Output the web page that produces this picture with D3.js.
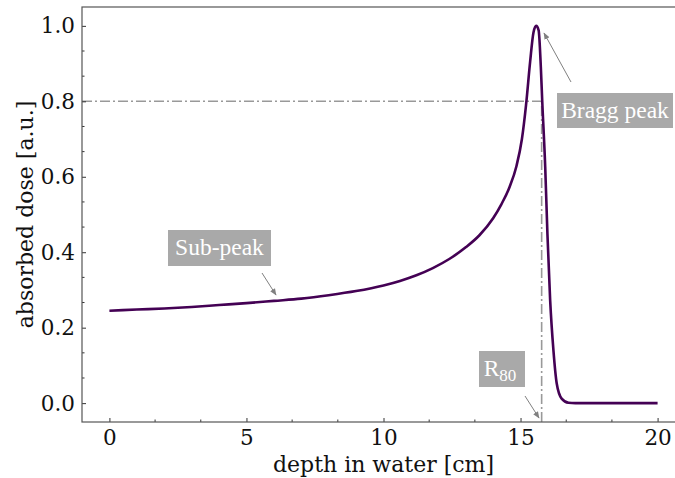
<!DOCTYPE html>
<html>
<head>
<meta charset="utf-8">
<script src="https://cdn.jsdelivr.net/npm/d3@7"></script>
<style>
  body { margin: 0; background: #fff; }
  svg { display: block; }
</style>
</head>
<body>
<svg id="chart" width="675" height="478"></svg>
<script>
// Depth-dose curve;
const depth = [0, 1, 2, 3, 4, 5, 6, 7, 8, 9, 10, 10.6, 11.2, 11.8, 12.4, 13, 13.5, 14, 14.3, 14.6, 14.85, 15.05, 15.2, 15.35, 15.47, 15.57, 15.66, 15.74, 15.79, 15.9, 15.98, 16.08, 16.2, 16.32, 16.5, 16.75, 17, 18, 19, 20];
const dose = [0.245, 0.248, 0.251, 0.255, 0.26, 0.265, 0.271, 0.277, 0.286, 0.297, 0.312, 0.324, 0.339, 0.358, 0.382, 0.413, 0.445, 0.49, 0.527, 0.573, 0.628, 0.7, 0.79, 0.905, 0.982, 1.0, 0.988, 0.891, 0.803, 0.626, 0.45, 0.273, 0.14, 0.052, 0.012, 0.001, 0, 0, 0, 0];

const xTicks = [0, 5, 10, 15, 20];
const yTicks = [0.0, 0.2, 0.4, 0.6, 0.8, 1.0];
const r80 = 15.77;
const level80 = 0.8;

const labels = [
    { text: 'Bragg peak', box: [557, 93, 673, 128], from: [571, 82], to: [544, 33] },
    { text: 'Sub-peak', box: [168, 230, 271, 266], from: [262, 273], to: [276, 295] },
    { text: 'R', sub: '80', box: [479, 351, 525, 387], from: [525, 396], to: [539, 418] }
];

const margin = { left: 82, top: 7, right: 685, bottom: 422 };
const serif = '"DejaVu Serif", serif';

const x = d3.scaleLinear().domain([-1, 21]).range([margin.left, margin.right]);
const y = d3.scaleLinear().domain([-0.05, 1.05]).range([margin.bottom, margin.top]);

const svg = d3.select('#chart');

const defs = svg.append('defs');
defs.append('marker')
    .attr('id', 'head')
    .attr('viewBox', '0 0 10 10')
    .attr('refX', 9)
    .attr('refY', 5)
    .attr('markerWidth', 7)
    .attr('markerHeight', 7)
    .attr('markerUnits', 'userSpaceOnUse')
    .attr('orient', 'auto')
    .append('path')
    .attr('d', 'M0,1 L10,5 L0,9 Z')
    .attr('fill', '#808080');

// Dash-dot guide lines;
const guide = { stroke: '#999', 'stroke-width': 1.6, 'stroke-dasharray': '10,3,2,3' };
const hLine = svg.append('line')
    .attr('x1', x(-1)).attr('x2', x(r80))
    .attr('y1', y(level80)).attr('y2', y(level80));
const vLine = svg.append('line')
    .attr('x1', x(r80)).attr('x2', x(r80))
    .attr('y1', y(-0.05)).attr('y2', y(level80));
[hLine, vLine].forEach((l) => Object.entries(guide).forEach(([k, v]) => l.attr(k, v)));

// Curve;
const line = d3.line()
    .x((d, i) => x(depth[i]))
    .y((d) => y(d))
    .curve(d3.curveMonotoneX);

svg.append('path')
    .datum(dose)
    .attr('d', line)
    .attr('fill', 'none')
    .attr('stroke', '#440154')
    .attr('stroke-width', 2.6);

// Axes;
const xAxis = svg.append('g')
    .attr('transform', `translate(0,${margin.bottom})`)
    .call(d3.axisBottom(x).tickValues(xTicks).tickFormat(d3.format('d')).tickSizeInner(-4).tickSizeOuter(0).tickPadding(8));
const yAxis = svg.append('g')
    .attr('transform', `translate(${margin.left},0)`)
    .call(d3.axisLeft(y).tickValues(yTicks).tickFormat(d3.format('.1f')).tickSizeInner(-4).tickSizeOuter(0).tickPadding(7));

// Minor ticks, 2 between each major;
const xMinor = d3.range(-1, 21).flatMap((k) => [k * 5 + 5 / 3, k * 5 + 10 / 3]).filter((v) => v > -1 && v < 21);
const yMinor = d3.range(-1, 6).flatMap((k) => [k * 0.2 + 0.2 / 3, k * 0.2 + 0.4 / 3]).filter((v) => v > -0.05 && v < 1.05);
xAxis.selectAll('.minor').data(xMinor).enter().append('line')
    .attr('x1', (d) => x(d)).attr('x2', (d) => x(d)).attr('y1', 0).attr('y2', -2.5);
yAxis.selectAll('.minor').data(yMinor).enter().append('line')
    .attr('y1', (d) => y(d)).attr('y2', (d) => y(d)).attr('x1', 0).attr('x2', 2.5);

[xAxis, yAxis].forEach((a) => {
    a.selectAll('path.domain').remove();
    a.selectAll('line').attr('stroke', '#333').attr('stroke-width', 1);
    a.attr('font-family', serif).attr('font-size', 21.5);
    a.selectAll('text').attr('fill', '#111');
});

// Frame (right spine lies beyond the cropped view);
svg.append('rect')
    .attr('x', margin.left).attr('y', margin.top)
    .attr('width', margin.right - margin.left).attr('height', margin.bottom - margin.top)
    .attr('fill', 'none').attr('stroke', '#555').attr('stroke-width', 1.2);

// Axis labels;
svg.append('text')
    .attr('x', (margin.left + margin.right) / 2).attr('y', 472)
    .attr('text-anchor', 'middle').attr('font-family', serif).attr('font-size', 22).attr('fill', '#111')
    .text('depth in water [cm]');
svg.append('text')
    .attr('transform', `translate(33,${(margin.top + margin.bottom) / 2}) rotate(-90)`)
    .attr('text-anchor', 'middle').attr('font-family', serif).attr('font-size', 22).attr('fill', '#111')
    .text('absorbed dose [a.u.]');

// Annotations;
labels.forEach((a) => {
    const [x0, y0, x1, y1] = a.box;
    svg.append('line')
        .attr('x1', a.from[0]).attr('y1', a.from[1])
        .attr('x2', a.to[0]).attr('y2', a.to[1])
        .attr('stroke', '#808080').attr('stroke-width', 1)
        .attr('marker-end', 'url(#head)');
    svg.append('rect')
        .attr('x', x0).attr('y', y0).attr('width', x1 - x0).attr('height', y1 - y0)
        .attr('fill', '#a9a9a9');
    const t = svg.append('text')
        .attr('x', (x0 + x1) / 2 - (a.sub ? 2 : 0)).attr('y', (y0 + y1) / 2 + 7)
        .attr('text-anchor', 'middle')
        .attr('font-family', '"Liberation Serif", serif')
        .attr('font-size', 23.5).attr('fill', '#fff')
        .text(a.text);
    if (a.sub) {
        t.append('tspan').attr('dy', 5).attr('font-size', 17).text(a.sub);
    }
});
</script>
</body>
</html>
